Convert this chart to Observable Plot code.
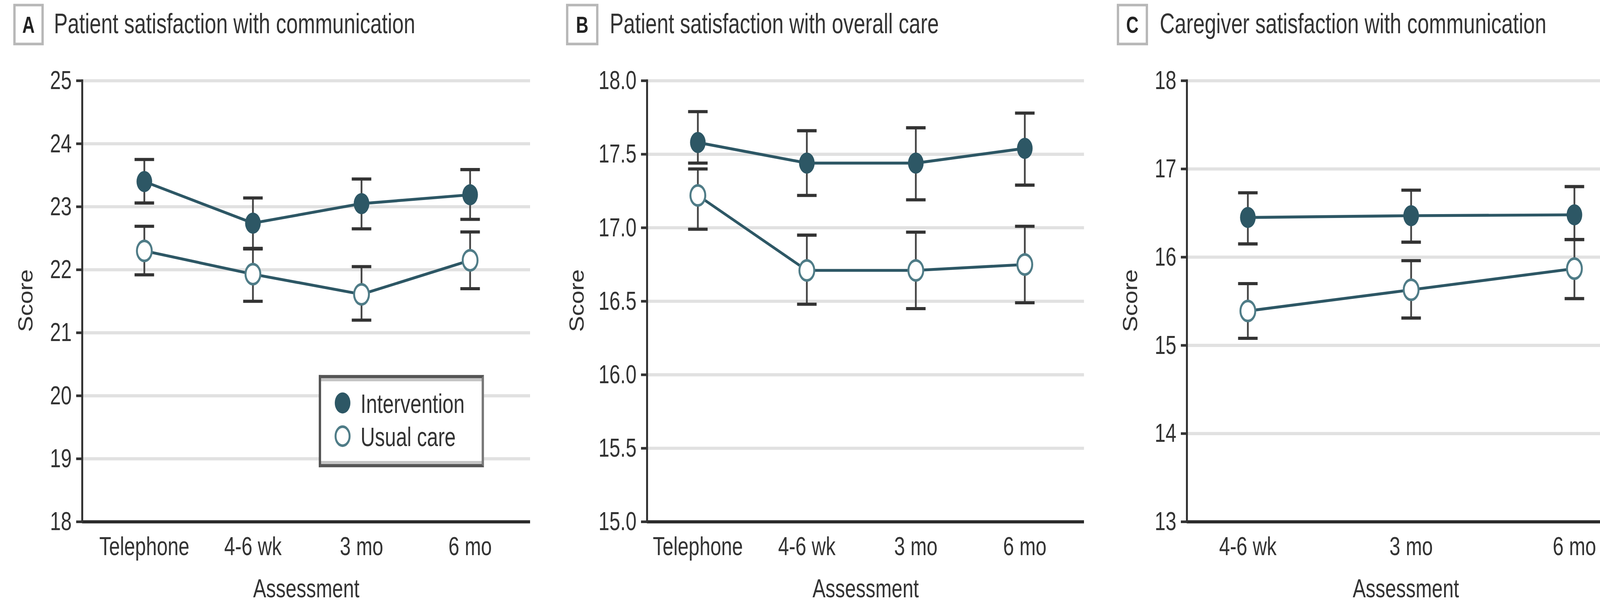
<!DOCTYPE html>
<html>
<head>
<meta charset="utf-8">
<script src="https://cdn.jsdelivr.net/npm/d3@7"></script>
<script src="https://cdn.jsdelivr.net/npm/@observablehq/plot@0.6"></script>
<style>
  html, body { margin: 0; padding: 0; background: #fff; }
  body { width: 4159px; height: 1541px; overflow: hidden; font-family: "Liberation Sans", Arial, sans-serif; color: #333; position: relative; }
  #fig { position: absolute; left: 0; top: 0; width: 4159px; height: 1141.5px; transform: scaleY(1.35); transform-origin: 0 0; }
  .panel { position: absolute; top: 0; height: 1141.5px; }
  .panel svg.plot { position: absolute; top: 100px; left: 0; overflow: visible; }
  .box { position: absolute; top: 7.4px; height: 79px; box-sizing: border-box; border: 6px solid #b8b8b8; border-top-width: 5px; border-bottom-width: 5px; background: #fff;
         display: flex; align-items: center; justify-content: center; font-size: 44px; font-weight: bold; color: #222; }
  .ttl { position: absolute; top: 18px; font-size: 53px; line-height: 1; color: #333; white-space: nowrap; }
  .ylab { position: absolute; top: 570.4px; font-size: 52px; line-height: 1; color: #333; white-space: nowrap;
          transform: translate(-50%, -50%) rotate(-90deg) scaleX(0.875); }
  .legend { position: absolute; box-sizing: border-box; border: 6px solid #555; border-right-color: #7a7a7a; background: #fff;
            box-shadow: inset 0 6px 0 #c4c4c4, inset 0 -6px 0 #c4c4c4; }
  .legend svg { position: absolute; left: 0; top: 0; overflow: visible; }
</style>
</head>
<body>
<div id="fig"></div>
<script>
// ---------- data ----------
const categoriesAB = ["Telephone", "4-6 wk", "3 mo", "6 mo"];
const categoriesC = ["4-6 wk", "3 mo", "6 mo"];
const seriesNames = ["Intervention", "Usual care"];
const panelLetters = ["A", "B", "C"];
const panelTitles = [
  "Patient satisfaction with communication",
  "Patient satisfaction with overall care",
  "Caregiver satisfaction with communication"
];
const yLabel = "Score";
const xLabel = "Assessment";

// Panel A
const aIntMean = [23.40, 22.74, 23.05, 23.19];
const aIntLow  = [23.06, 22.33, 22.65, 22.80];
const aIntHigh = [23.75, 23.14, 23.44, 23.59];
const aUsMean  = [22.30, 21.93, 21.61, 22.15];
const aUsLow   = [21.92, 21.50, 21.20, 21.70];
const aUsHigh  = [22.69, 22.34, 22.05, 22.60];
const aTicks = [18, 19, 20, 21, 22, 23, 24, 25];

// Panel B
const bIntMean = [17.58, 17.44, 17.44, 17.54];
const bIntLow  = [17.44, 17.22, 17.19, 17.29];
const bIntHigh = [17.79, 17.66, 17.68, 17.78];
const bUsMean  = [17.22, 16.71, 16.71, 16.75];
const bUsLow   = [16.99, 16.48, 16.45, 16.49];
const bUsHigh  = [17.40, 16.95, 16.97, 17.01];
const bTicks = [15.0, 15.5, 16.0, 16.5, 17.0, 17.5, 18.0];

// Panel C
const cIntMean = [16.45, 16.47, 16.48];
const cIntLow  = [16.15, 16.17, 16.20];
const cIntHigh = [16.73, 16.76, 16.80];
const cUsMean  = [15.39, 15.63, 15.87];
const cUsLow   = [15.08, 15.31, 15.53];
const cUsHigh  = [15.70, 15.96, 16.20];
const cTicks = [13, 14, 15, 16, 17, 18];

// ---------- style ----------
const FONT = '"Liberation Sans", Arial, sans-serif';
const TEAL = "#2d5765";
const TEAL_LIGHT = "#4f7c87";
const BAR = "#444";
const CAP_HALF = 25;
const capSymbol = {draw(ctx) { ctx.moveTo(-CAP_HALF, 0); ctx.lineTo(CAP_HALF, 0); }};

function rowsFor(cats, im, il, ih, um, ul, uh) {
  const rows = [];
  cats.forEach((c, i) => {
    rows.push({group: seriesNames[0], x: c, y: im[i], lo: il[i], hi: ih[i]});
    rows.push({group: seriesNames[1], x: c, y: um[i], lo: ul[i], hi: uh[i]});
  });
  return rows;
}

function makePlot(cfg) {
  const rows = rowsFor(cfg.cats, ...cfg.series);
  const ticks = cfg.ticks;
  const fmt = cfg.fmt;
  return Plot.plot({
    width: cfg.width,
    height: 1041.5,
    marginTop: 52.6,
    marginBottom: 152.6,
    marginLeft: cfg.marginLeft,
    marginRight: cfg.marginRight,
    style: {fontFamily: FONT, fontSize: "50px", color: "#333", background: "transparent", overflow: "visible"},
    x: {type: "point", domain: cfg.cats, range: cfg.xRange, padding: 0},
    y: {domain: [ticks[0], ticks[ticks.length - 1]]},
    marks: [
      Plot.gridY(ticks, {stroke: "#e1e1e1", strokeOpacity: 1, strokeWidth: 6}),
      Plot.ruleY([ticks[0]], {stroke: "#2a2a2a", strokeWidth: 6}),
      Plot.frame({anchor: "left", stroke: "#333", strokeWidth: 5}),
      Plot.axisY(ticks, {tickSize: 15, tickPadding: 12, strokeWidth: 5, tickFormat: fmt, label: null, fontSize: 50}),
      Plot.axisX({tickSize: 0, tickPadding: 28, label: xLabel, labelAnchor: "center",
        labelOffset: 143, labelArrow: "none", fontSize: 50}),
      Plot.ruleX(rows, {x: "x", y1: "lo", y2: "hi", stroke: BAR, strokeWidth: 4.5}),
      Plot.dot(rows, {x: "x", y: "lo", symbol: capSymbol, r: 10, fill: "none", stroke: "#333", strokeWidth: 6}),
      Plot.dot(rows, {x: "x", y: "hi", symbol: capSymbol, r: 10, fill: "none", stroke: "#333", strokeWidth: 6}),
      Plot.line(rows, {x: "x", y: "y", z: "group", stroke: TEAL, strokeWidth: 5.5}),
      Plot.dot(rows, {filter: d => d.group === seriesNames[1], x: "x", y: "y", r: 19, fill: "#fff", stroke: TEAL_LIGHT, strokeWidth: 5}),
      Plot.dot(rows, {filter: d => d.group === seriesNames[0], x: "x", y: "y", r: 20, fill: TEAL, stroke: "none"})
    ]
  });
}

const panels = [
  {left: 0, width: 1400, marginLeft: 210, marginRight: 43, xRange: [368, 1203], cats: categoriesAB,
   series: [aIntMean, aIntLow, aIntHigh, aUsMean, aUsLow, aUsHigh], ticks: aTicks, fmt: d3.format("d"),
   yLabelX: 65, boxLeft: 34, boxWidth: 78, titleLeft: 138},
  {left: 1400, width: 1400, marginLeft: 256, marginRight: 25, xRange: [386, 1223], cats: categoriesAB,
   series: [bIntMean, bIntLow, bIntHigh, bUsMean, bUsLow, bUsHigh], ticks: bTicks, fmt: d3.format(".1f"),
   yLabelX: 76, boxLeft: 49, boxWidth: 83, titleLeft: 161},
  {left: 2800, width: 1359, marginLeft: 238, marginRight: 0, xRange: [394, 1230], cats: categoriesC,
   series: [cIntMean, cIntLow, cIntHigh, cUsMean, cUsLow, cUsHigh], ticks: cTicks, fmt: d3.format("d"),
   yLabelX: 93, boxLeft: 59, boxWidth: 80, titleLeft: 169}
];

const fig = document.getElementById("fig");
panels.forEach((p, i) => {
  const div = document.createElement("div");
  div.className = "panel";
  div.style.left = p.left + "px";
  div.style.width = p.width + "px";
  const svg = makePlot(p);
  svg.classList.add("plot");
  div.appendChild(svg);
  const box = document.createElement("div");
  box.className = "box";
  box.style.left = p.boxLeft + "px";
  box.style.width = p.boxWidth + "px";
  box.textContent = panelLetters[i];
  div.appendChild(box);
  const ttl = document.createElement("div");
  ttl.className = "ttl";
  ttl.style.left = p.titleLeft + "px";
  ttl.textContent = panelTitles[i];
  div.appendChild(ttl);
  const yl = document.createElement("div");
  yl.className = "ylab";
  yl.style.left = p.yLabelX + "px";
  yl.textContent = yLabel;
  div.appendChild(yl);
  fig.appendChild(div);
});

// legend in panel A
const legend = document.createElement("div");
legend.className = "legend";
legend.style.left = "816px";
legend.style.top = "711px";
legend.style.width = "423px";
legend.style.height = "175px";
const ns = "http://www.w3.org/2000/svg";
const lsvg = document.createElementNS(ns, "svg");
lsvg.setAttribute("width", "411");
lsvg.setAttribute("height", "163");
seriesNames.forEach((name, i) => {
  const cy = i === 0 ? 47 : 110;
  const c = document.createElementNS(ns, "circle");
  c.setAttribute("cx", 55);
  c.setAttribute("cy", cy);
  c.setAttribute("r", i === 0 ? 20 : 18);
  c.setAttribute("fill", i === 0 ? TEAL : "#fff");
  c.setAttribute("stroke", i === 0 ? "none" : TEAL_LIGHT);
  c.setAttribute("stroke-width", 5);
  lsvg.appendChild(c);
  const t = document.createElementNS(ns, "text");
  t.setAttribute("x", 101);
  t.setAttribute("y", cy + 19);
  t.setAttribute("font-family", FONT);
  t.setAttribute("font-size", 51);
  t.setAttribute("fill", "#333");
  t.textContent = name;
  lsvg.appendChild(t);
});
legend.appendChild(lsvg);
fig.children[0].appendChild(legend);
</script>
</body>
</html>
